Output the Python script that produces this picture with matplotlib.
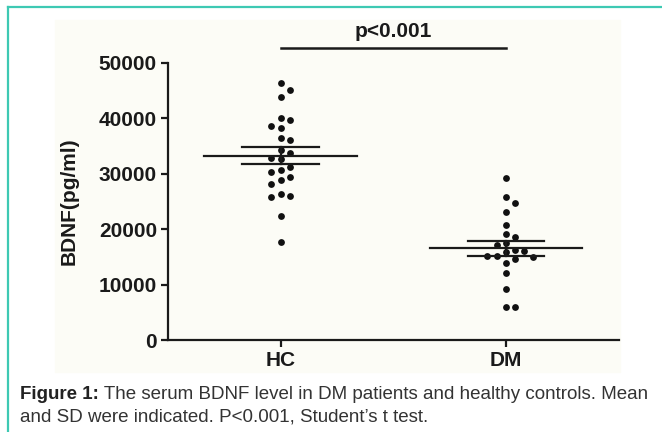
import matplotlib
matplotlib.use("Agg")
import matplotlib.pyplot as plt
import numpy as np
from matplotlib.patches import Rectangle
from matplotlib.lines import Line2D

# values (pg/ml)
groups = ['HC', 'DM']
hc = [46440, 45130, 43920, 40020, 39710, 38680, 38320, 36410, 36100, 34300,
      33700, 32800, 32670, 31280, 30690, 30380, 29370, 28880, 28160, 26350,
      25990, 25870, 22440, 17740]
dm = [29190, 25870, 24780, 23160, 20760, 19130, 18650, 17560, 17150, 16250,
      16120, 15940, 15160, 15160, 15040, 14570, 13840, 12040, 9150, 6010, 6010]
means = [33270, 16550]
sems = [1510, 1330]
yticks = [0, 10000, 20000, 30000, 40000, 50000]
p_text = 'p<0.001'
caption_bold = 'Figure 1:'
caption_1 = ' The serum BDNF level in DM patients and healthy controls. Mean'
caption_2 = 'and SD were indicated. P<0.001, Student\u2019s t test.'

plt.rcParams['font.family'] = ['Liberation Sans', 'DejaVu Sans']

W, H = 662, 432
fig = plt.figure(figsize=(W / 100, H / 100), dpi=100)

# frame decoration
bg = Rectangle((55 / W, 1 - 372 / H), 565 / W, 352 / H,
               transform=fig.transFigure, color='#fcfcf6', zorder=-5)
fig.patches.append(bg)
teal = '#3ec9b3'
fig.lines.append(Line2D([8 / W, 8 / W], [0, 1 - 7 / H], transform=fig.transFigure,
                        color=teal, lw=1.6, zorder=-4))
fig.lines.append(Line2D([8 / W, 1], [1 - 7 / H, 1 - 7 / H], transform=fig.transFigure,
                        color=teal, lw=1.6, zorder=-4))

ax = fig.add_axes([168 / W, 1 - 340 / H, 450.5 / W, 277 / H])
ax.set_facecolor('none')
ax.set_xlim(-0.5, 1.5)
ax.set_ylim(0, 50000)

# simple beeswarm in pixel space
px_x = 450.5 / 2.0
px_y = 277 / 50000
step = 9.2 / px_x


def swarm(vals, center):
    placed = []
    xs = []
    for v in sorted(vals, reverse=True):
        for k in [0, 1, -1, 2, -2, 3, -3]:
            x = center + k * step
            ok = True
            for (px, py) in placed:
                d = np.hypot((px - x) * px_x, (py - v) * px_y)
                if d < 8.5:
                    ok = False
                    break
            if ok:
                break
        placed.append((x, v))
        xs.append(x)
    return xs, sorted(vals, reverse=True)


for i, vals in enumerate([hc, dm]):
    xs, ys = swarm(vals, i)
    ax.scatter(xs, ys, s=24, color='#111111', zorder=3, linewidths=0)
    ax.plot([i - 0.338, i + 0.338], [means[i], means[i]], color='#1a1a1a', lw=1.6, zorder=4)
    for s in (-1, 1):
        ax.plot([i - 0.17, i + 0.17], [means[i] + s * sems[i]] * 2, color='#1a1a1a', lw=1.6, zorder=4)
    ax.plot([i, i], [means[i] - sems[i], means[i] + sems[i]], color='#1a1a1a', lw=1.6, zorder=4)

for side in ['top', 'right']:
    ax.spines[side].set_visible(False)
for side in ['left', 'bottom']:
    ax.spines[side].set_linewidth(1.6)
    ax.spines[side].set_color('#1a1a1a')

ax.set_yticks(yticks)
ax.set_yticklabels([str(t) for t in yticks])
ax.set_xticks([0, 1])
ax.set_xticklabels(groups)
ax.tick_params(direction='out', length=5, width=1.6, color='#1a1a1a',
               labelsize=15, labelcolor='#1a1a1a', pad=3)
for lab in ax.get_xticklabels() + ax.get_yticklabels():
    lab.set_fontweight('bold')
ax.set_ylabel('BDNF(pg/ml)', fontsize=15, fontweight='bold', color='#1a1a1a')
ax.yaxis.set_label_coords(-0.1975, 0.5)

# significance bar
ax.plot([0, 1], [52650, 52650], color='#1a1a1a', lw=1.8, clip_on=False)
ax.text(0.5, 54690, p_text, ha='center', va='baseline', fontsize=15,
        fontweight='bold', color='#1a1a1a')

# caption
t1 = fig.text(20 / W, 1 - 399 / H, caption_bold, fontsize=13.5, fontweight='bold',
              color='#222222', va='baseline')
ax.annotate(caption_1, xy=(1, 0), xycoords=t1, ha='left', va='bottom',
            fontsize=13.5, color='#333333', annotation_clip=False)
fig.text(20 / W, 1 - 421 / H, caption_2, fontsize=13.5, color='#333333', va='baseline')

fig.savefig('out.png', dpi=100)
